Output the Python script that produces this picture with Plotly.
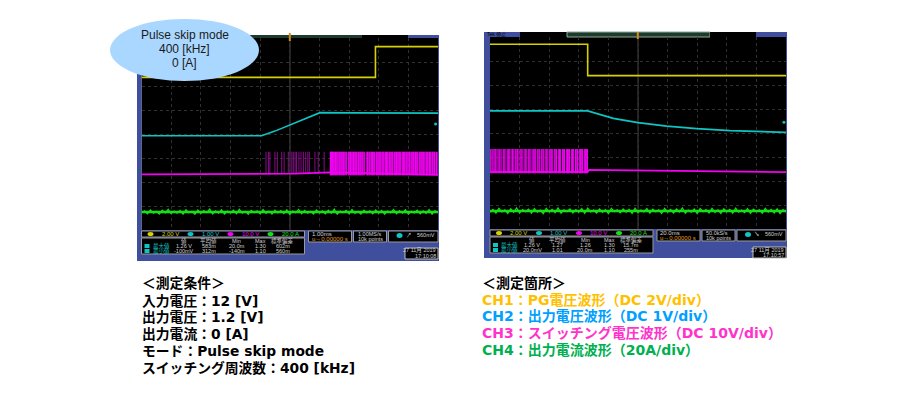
import plotly.graph_objects as go

# ---------- left scope (time in ms, amplitude in divisions) ----------
L_ch1_t = [-5, 2.89, 2.89, 5]
L_ch1_v = [6.36, 6.36, 7.64, 7.64]
L_ch2_t = [-5, -0.95, -0.50, -0.10, 0.30, 0.74, 1.02, 2.00, 5]
L_ch2_v = [3.93, 3.93, 4.12, 4.33, 4.52, 4.75, 4.89, 4.88, 4.87]
L_ch3_t = [-5, -0.80, 0.20, 1.36, 5]
L_ch3_v = [2.32, 2.32, 2.35, 2.40, 2.30]
L_ch3_top = 3.26
L_sparse = [-0.80, -0.72, -0.67, -0.50, -0.42, -0.27, -0.19, -0.05, 0.07, 0.12, 0.18,
            0.23, 0.31, 0.38, 0.46, 0.54, 0.61, 0.66, 0.85, 0.96, 1.16]
L_dense = [1.37, 1.42, 1.47, 1.52, 1.58, 1.63, 1.68, 1.74, 1.80, 1.84, 1.91, 1.97, 2.02, 2.07,
           2.13, 2.19, 2.24, 2.30, 2.36, 2.41, 2.46, 2.53, 2.60, 2.64, 2.70, 2.76, 2.83, 2.87,
           2.94, 3.00, 3.06, 3.12, 3.16, 3.23, 3.29, 3.35, 3.40, 3.46, 3.53, 3.58, 3.64, 3.70,
           3.74, 3.81, 3.87, 3.93, 3.98, 4.04, 4.11, 4.16, 4.22, 4.28, 4.32, 4.39, 4.45, 4.51,
           4.56, 4.62, 4.69, 4.74, 4.80, 4.86, 4.90, 4.97]
L_bright = [1.38, 1.40, 1.44, 1.49, 1.54, 1.60, 1.66, 1.72, 1.77, 1.82, 1.89, 1.99, 2.05, 2.10,
            2.15, 2.21, 2.26, 2.32, 2.38, 2.44, 2.50, 2.62, 2.68, 2.74, 2.79, 2.85, 2.92, 2.97,
            3.02, 3.08, 3.14, 3.21, 3.26, 3.31, 3.37, 3.44, 3.48, 3.55, 3.60, 3.66, 3.72, 3.79,
            3.84, 3.89, 3.95, 4.02, 4.06, 4.13, 4.18, 4.24, 4.30, 4.37, 4.42, 4.47, 4.53, 4.60,
            4.64, 4.71, 4.76, 4.82, 4.88, 4.95]
L_ch4_t = [-5.0, -4.9, -4.8, -4.7, -4.6, -4.5, -4.4, -4.3, -4.2, -4.1, -4.0, -3.9, -3.8, -3.7, -3.6, -3.5,
           -3.4, -3.3, -3.2, -3.1, -3.0, -2.9, -2.8, -2.7, -2.6, -2.5, -2.4, -2.3, -2.2, -2.1, -2.0, -1.9,
           -1.8, -1.7, -1.6, -1.5, -1.4, -1.3, -1.2, -1.1, -1.0, -0.9, -0.8, -0.7, -0.6, -0.5, -0.4, -0.3,
           -0.2, -0.1, 0.0, 0.1, 0.2, 0.3, 0.4, 0.5, 0.6, 0.7, 0.8, 0.9, 1.0, 1.1, 1.2, 1.3, 1.4, 1.5, 1.6,
           1.7, 1.8, 1.9, 2.0, 2.1, 2.2, 2.3, 2.4, 2.5, 2.6, 2.7, 2.8, 2.9, 3.0, 3.1, 3.2, 3.3, 3.4, 3.5,
           3.6, 3.7, 3.8, 3.9, 4.0, 4.1, 4.2, 4.3, 4.4, 4.5, 4.6, 4.7, 4.8, 4.9, 5.0]
L_ch4_v = [0.72, 0.80, 0.67, 0.84, 0.70, 0.78, 0.66, 0.83, 0.71, 0.86, 0.68, 0.79, 0.70, 0.82, 0.66, 0.85,
           0.72, 0.78, 0.65, 0.83, 0.69, 0.81, 0.72, 0.87, 0.67, 0.80, 0.70, 0.84, 0.66, 0.79, 0.71, 0.83,
           0.68, 0.86, 0.70, 0.78, 0.65, 0.82, 0.72, 0.80, 0.67, 0.85, 0.69, 0.79, 0.66, 0.83, 0.71, 0.81,
           0.68, 0.84, 0.65, 0.79, 0.72, 0.86, 0.68, 0.82, 0.70, 0.78, 0.66, 0.84, 0.71, 0.80, 0.67, 0.83,
           0.70, 0.87, 0.66, 0.79, 0.72, 0.82, 0.68, 0.85, 0.69, 0.78, 0.66, 0.83, 0.71, 0.80, 0.67, 0.84,
           0.70, 0.82, 0.65, 0.79, 0.72, 0.86, 0.68, 0.81, 0.70, 0.84, 0.66, 0.78, 0.71, 0.83, 0.67, 0.80,
           0.69, 0.85, 0.66, 0.81, 0.72]
L_ch4_mean_t = [-5, 5]
L_ch4_mean_v = [0.75, 0.75]

# ---------- right scope (time in ms, amplitude in divisions) ----------
R_ch1_t = [-100, -34, -34, 100]
R_ch1_v = [7.70, 7.70, 6.39, 6.39]
R_ch2_t = [-100, -34, -16.7, 0, 19.4, 39.7, 62.2, 100]
R_ch2_v = [4.92, 4.92, 4.61, 4.43, 4.29, 4.18, 4.10, 4.03]
R_ch3_t = [-100, -34, -33, 0, 40, 100]
R_ch3_v = [2.38, 2.38, 2.46, 2.43, 2.40, 2.37]
R_ch3_top = 3.33
R_dense = [-98.6, -96.8, -95.2, -93.4, -91.1, -89.8, -87.6, -85.8, -84.3, -82.4, -81.0, -79.0, -77.0,
           -75.5, -73.6, -71.6, -70.1, -68.1, -66.6, -64.8, -62.8, -61.3, -59.3, -57.9, -55.9, -53.8,
           -52.4, -50.4, -48.4, -47.0, -44.9, -43.5, -41.4, -39.6, -38.1, -36.2, -34.7]
R_bright = [-99.5, -97.9, -96.1, -94.0, -92.5, -90.5, -88.4, -87.0, -84.9, -83.0, -81.6, -79.7, -78.3,
            -76.2, -74.2, -72.9, -70.8, -69.4, -67.5, -65.4, -64.0, -62.0, -60.0, -58.6, -56.6, -55.1,
            -53.0, -51.1, -49.7, -47.6, -46.2, -44.2, -42.2, -40.8, -38.8, -37.4, -35.4, -34.2]
R_ch4_t = [-100, -98, -96, -94, -92, -90, -88, -86, -84, -82, -80, -78, -76, -74, -72, -70, -68, -66, -64,
           -62, -60, -58, -56, -54, -52, -50, -48, -46, -44, -42, -40, -38, -36, -34, -32, -30, -28, -26,
           -24, -22, -20, -18, -16, -14, -12, -10, -8, -6, -4, -2, 0, 2, 4, 6, 8, 10, 12, 14, 16, 18, 20,
           22, 24, 26, 28, 30, 32, 34, 36, 38, 40, 42, 44, 46, 48, 50, 52, 54, 56, 58, 60, 62, 64, 66, 68,
           70, 72, 74, 76, 78, 80, 82, 84, 86, 88, 90, 92, 94, 96, 98, 100]
R_ch4_v = [0.70, 0.82, 0.66, 0.86, 0.71, 0.80, 0.65, 0.84, 0.70, 0.88, 0.67, 0.81, 0.72, 0.83, 0.66, 0.85,
           0.70, 0.79, 0.64, 0.86, 0.71, 0.82, 0.68, 0.88, 0.66, 0.80, 0.72, 0.84, 0.67, 0.81, 0.70, 0.85,
           0.65, 0.87, 0.71, 0.79, 0.66, 0.83, 0.69, 0.81, 0.64, 0.86, 0.72, 0.80, 0.67, 0.84, 0.70, 0.82,
           0.65, 0.87, 0.68, 0.79, 0.71, 0.85, 0.66, 0.83, 0.72, 0.80, 0.65, 0.86, 0.70, 0.82, 0.67, 0.84,
           0.71, 0.88, 0.66, 0.79, 0.70, 0.83, 0.64, 0.85, 0.72, 0.81, 0.67, 0.86, 0.69, 0.80, 0.65, 0.84,
           0.71, 0.82, 0.66, 0.87, 0.70, 0.79, 0.68, 0.85, 0.65, 0.83, 0.72, 0.80, 0.66, 0.86, 0.70, 0.82,
           0.67, 0.84, 0.64, 0.81, 0.71]
R_ch4_mean_t = [-100, 100]
R_ch4_mean_v = [0.75, 0.75]

notes_left = ["＜測定条件＞", "入力電圧：12 [V]", "出力電圧：1.2 [V]", "出力電流：0 [A]",
              "モード：Pulse skip mode", "スイッチング周波数：400 [kHz]"]
notes_left_y = [283, 301, 317, 334, 351, 368]
notes_right = ["＜測定箇所＞", "CH1：PG電圧波形（DC 2V/div）", "CH2：出力電圧波形（DC 1V/div）",
               "CH3：スイッチング電圧波形（DC 10V/div）", "CH4：出力電流波形（20A/div）"]
notes_right_y = [283, 300, 316, 333, 350]
notes_right_c = ["#000000", "#FFC000", "#00A0FF", "#FF33CC", "#00B050"]
bubble_lines = ["Pulse skip mode", "400 [kHz]", "0 [A]"]
bubble_y = [35, 49, 63]
L_status = ["2.00 V", "1.00 V", "10.0 V", "20.0 A"]
R_status = L_status
L_head = ["値", "平均値", "Min", "Max", "標準偏差"]
L_row1 = ["1.26 V", "583m", "20.0m", "1.30", "602m"]
L_row2 = ["-100mV", "312m", "-140m", "1.10", "560m"]
R_row1 = ["1.26 V", "1.27", "1.26", "1.30", "15.7m"]
R_row2 = ["20.0mV", "1.01", "20.0m", "1.10", "255m"]

YEL, CYA, MAG, GRN = "#D8D000", "#10C4C4", "#F400F4", "#16E016"
DIM = "#8A0C8A"
MID = "#C410C4"
W, H = 900, 400
FRAME = "#3F4F9E"
AX_L = [141.5 / W, 438 / W]
AX_R = [490 / W, 786 / W]
AY_L = [1 - 230 / H, 1 - 38 / H]
AY_R = [1 - 229 / H, 1 - 37 / H]


def spikes(ts, base, top):
    xs, ys = [], []
    for t in ts:
        xs += [t, t, None]
        ys += [base, top, None]
    return xs, ys


fig = go.Figure()


def line(x, y, color, width, ax):
    fig.add_trace(go.Scatter(x=x, y=y, mode="lines", line=dict(color=color, width=width),
                             xaxis=ax[0], yaxis=ax[1], showlegend=False, hoverinfo="skip"))


def marks(x, y, color, ax, size=5, sym="circle"):
    fig.add_trace(go.Scatter(x=x, y=y, mode="markers", cliponaxis=False,
                             marker=dict(color=color, size=size, symbol=sym),
                             xaxis=ax[0], yaxis=ax[1], showlegend=False, hoverinfo="skip"))


A = ("x", "y")
B = ("x2", "y2")
# left traces
line(L_ch4_mean_t, L_ch4_mean_v, GRN, 2.4, A)
line(L_ch4_t, L_ch4_v, GRN, 1.2, A)
line(*spikes(L_sparse, 2.34, L_ch3_top), DIM, 1, A)
line(*spikes(L_dense, 2.28, L_ch3_top), MID, 1.2, A)
line(*spikes(L_bright, 2.28, L_ch3_top), MAG, 1.2, A)
line(L_ch3_t, L_ch3_v, MAG, 1.8, A)
line(L_ch2_t, L_ch2_v, CYA, 1.6, A)
line(L_ch1_t, L_ch1_v, YEL, 1.6, A)
marks([-5.08], [L_ch1_v[0]], "#6B6600", A)
marks([-5.08], [L_ch2_v[0]], CYA, A)
marks([-5.08], [L_ch3_v[0]], "#7A0A6A", A)
marks([-5.08], [0.75], "#0A7A0A", A)
marks([4.92], [4.42], CYA, A, 3)
marks([0], [8.18], "#C87A10", A, 6, "square")
# right traces
line(R_ch4_mean_t, R_ch4_mean_v, GRN, 2.4, B)
line(R_ch4_t, R_ch4_v, GRN, 1.2, B)
line(*spikes(R_dense, 2.32, R_ch3_top), MID, 1.2, B)
line(*spikes(R_bright, 2.32, R_ch3_top), MAG, 1.2, B)
line(R_ch3_t, R_ch3_v, MAG, 1.8, B)
line(R_ch2_t, R_ch2_v, CYA, 1.8, B)
line(R_ch1_t, R_ch1_v, YEL, 1.6, B)
marks([-101.5], [R_ch1_v[-1]], "#6B6600", B)
marks([-101.5], [R_ch2_v[-1]], CYA, B)
marks([-101.5], [R_ch3_v[-1]], "#7A0A6A", B)
marks([-101.5], [0.75], "#0A7A0A", B)
marks([98.6], [4.45], CYA, B, 3)
marks([0], [8.1], "#C87A10", B, 6, "square")

shapes, notes = [], []


def box(x0, y0, x1, y1, fill, line_c=None, layer="below", kind="rect", lw=1):
    shapes.append(dict(type=kind, xref="paper", yref="paper", x0=x0 / W, x1=x1 / W,
                       y0=1 - y0 / H, y1=1 - y1 / H, fillcolor=fill, layer=layer,
                       line=dict(color=line_c or fill, width=lw if line_c else 0)))


def text(x, y, s, size=6, color="#D0D0D0", anchor="left", bold=False,
         family="Liberation Sans, Noto Sans CJK JP"):
    notes.append(dict(xref="paper", yref="paper", x=x / W, y=1 - y / H, text=f"<b>{s}</b>" if bold else s,
                      showarrow=False, xanchor=anchor, yanchor="middle", borderpad=0,
                      font=dict(size=size, color=color, family=family)))


def panel(xl, xr, top, bottom, plot_l, plot_r, plot_t, plot_b, status, head, r1, r2, tb, sr, pts, slope, date):
    box(xl, top, xr, plot_t, FRAME)
    box(xl, plot_t, plot_l, plot_b, FRAME)
    box(plot_r, plot_t, xr, plot_b, FRAME)
    box(xl, plot_b, xr, bottom, FRAME)
    # status strip
    sy0, sy1 = plot_b + 1, plot_b + 7
    box(plot_l, sy0, plot_l + 163, sy1, "#000000", "#9A9A9A")
    chs = [(YEL, 6), (CYA, 46), (MAG, 86), (GRN, 126)]
    for (c, dx), s in zip(chs, status):
        box(plot_l + dx, sy0 + 1, plot_l + dx + 6, sy1 - 1, c, layer="below", kind="circle")
        text(plot_l + dx + 13, (sy0 + sy1) / 2, s, color=c)
    # measurement table
    box(plot_l, sy1 + 1, plot_l + 163, sy1 + 17, "#000000", "#9A9A9A")
    cols = [42, 67, 95, 119, 141]
    for dx, a, b, c in zip(cols, head, r1, r2):
        text(plot_l + dx, sy1 + 4, a, size=5.5, anchor="center")
        text(plot_l + dx, sy1 + 9, b, size=5.5, anchor="center")
        text(plot_l + dx, sy1 + 14, c, size=5.5, anchor="center")
    box(plot_l + 3, sy1 + 7, plot_l + 8, sy1 + 11, CYA)
    box(plot_l + 3, sy1 + 12, plot_l + 8, sy1 + 16, CYA)
    text(plot_l + 10, sy1 + 9, "最大値", size=5.5, color=CYA)
    text(plot_l + 10, sy1 + 14, "最小値", size=5.5, color=CYA)
    # horizontal, sampling and trigger boxes
    bx = plot_l + 167
    box(bx, sy0, bx + 43, sy0 + 11, "#000000", "#9A9A9A")
    text(bx + 2, sy0 + 3, tb)
    text(bx + 2, sy0 + 8, "u→0.00000 s", color="#E09A20")
    box(bx + 45, sy0, bx + 78, sy0 + 11, "#000000", "#9A9A9A")
    text(bx + 48, sy0 + 3, sr, size=5.5)
    text(bx + 48, sy0 + 8, pts, size=5.5)
    box(bx + 80, sy0, plot_r, sy0 + 11, "#000000", "#9A9A9A")
    box(bx + 88, sy0 + 2, bx + 94, sy0 + 7, CYA, kind="circle")
    text(bx + 96, sy0 + 4, slope, size=5.5)
    text(plot_r - 2, sy0 + 4, "560mV", size=5.5, anchor="right")
    # date
    box(plot_r - 33, sy0 + 17, plot_r, sy0 + 28, "#000000", "#C0C0C0")
    text(plot_r - 1.5, sy0 + 20, "27 11月 2019", size=5.5, anchor="right")
    text(plot_r - 1.5, sy0 + 25, date, size=5.5, anchor="right")


panel(137, 439, 35, 261, 141.5, 438, 38, 230, L_status, L_head, L_row1, L_row2,
      "1.00ms", "1.00MS/s", "10k points", "↗", "17:10:08")
panel(484, 787, 32, 258, 490, 786, 37, 229, R_status, L_head, R_row1, R_row2,
      "20.0ms", "50.0kS/s", "10k points", "↘", "17:10:57")

# top strips
box(137, 35, 362, 38, "#1E3A2C")
box(362, 35, 408, 38, "#000000")
box(484, 32, 520, 37, FRAME)
box(520, 32, 567, 37, "#000000")
box(567, 32, 710, 37, "#1E3A2C", "#8FA898")
box(710, 32, 756, 37, "#000000")
text(486, 34.5, "Tek 停止", size=5, color="#000000")
# trigger stems
box(288.8, 33, 290.8, 41, "#D88A18", layer="above")
box(636.8, 32, 638.8, 39, "#D88A18", layer="above")
# centre cross hairs
box(290, 38, 290, 230, "rgba(0,0,0,0)", "#444444", lw=1, layer="below")
shapes[-1]["line"]["dash"] = "dot"
box(638, 37, 638, 229, "rgba(0,0,0,0)", "#444444", lw=1, layer="below")
shapes[-1]["line"]["dash"] = "dot"

# callout
box(110, 19, 259, 81, "#AAD7FF", kind="circle", layer="above")
for s, y in zip(bubble_lines, bubble_y):
    text(184.5, y, s, size=12, color="#1A1A1A", anchor="center")

BF = "DejaVu Sans, Noto Sans CJK JP"
for s, y in zip(notes_left, notes_left_y):
    text(141, y, s, size=13.8, color="#000000", bold=True, family=BF)
for s, y, c in zip(notes_right, notes_right_y, notes_right_c):
    text(481, y, s, size=14, color=c, bold=True, family=BF)

grid = dict(showgrid=True, gridcolor="#303030", griddash="dot", gridwidth=1, zeroline=False,
            showticklabels=False, ticks="", showline=False)
fig.update_layout(
    width=W, height=H, margin=dict(l=0, r=0, t=0, b=0), autosize=False,
    paper_bgcolor="#FFFFFF", plot_bgcolor="#000000", showlegend=False,
    shapes=shapes, annotations=notes,
    xaxis=dict(domain=AX_L, range=[-5, 5], tick0=-5, dtick=1, **grid),
    yaxis=dict(domain=AY_L, range=[0, 8], tick0=0, dtick=1, **grid),
    xaxis2=dict(domain=AX_R, range=[-100, 100], tick0=-100, dtick=20, anchor="y2", **grid),
    yaxis2=dict(domain=AY_R, range=[0, 8], tick0=0, dtick=1, anchor="x2", **grid),
)
fig.write_html("out.html", post_script="document.body.style.margin='0';",
               config=dict(displayModeBar=False))
